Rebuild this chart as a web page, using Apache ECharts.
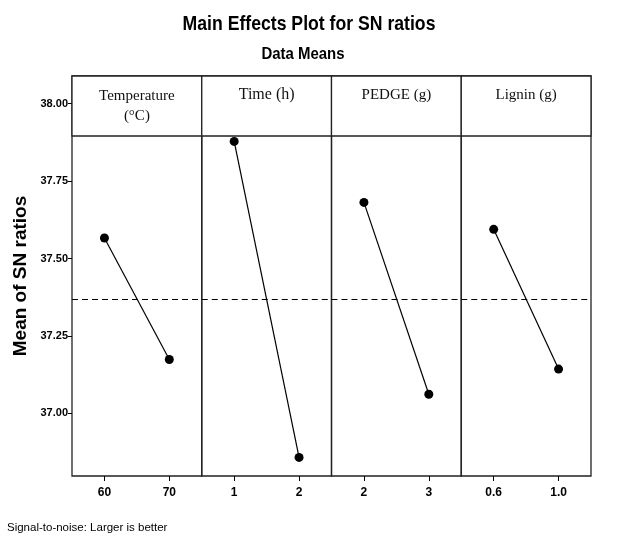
<!DOCTYPE html>
<html>
<head>
<meta charset="utf-8">
<script src="https://cdn.jsdelivr.net/npm/echarts@6/dist/echarts.min.js"></script>
<style>
  html, body { margin: 0; padding: 0; background: #fff; }
  #chart { width: 617px; height: 541px; }
</style>
</head>
<body>
<div id="chart"></div>
<script>
// ---- data ----
const factorNames = ['Temperature\n(°C)', 'Time (h)', 'PEDGE (g)', 'Lignin (g)'];
const levelsTemperature = ['60', '70'];
const levelsTime = ['1', '2'];
const levelsPEDGE = ['2', '3'];
const levelsLignin = ['0.6', '1.0'];
const snTemperature = [37.566, 37.174];
const snTime = [37.878, 36.858];
const snPEDGE = [37.681, 37.062];
const snLignin = [37.594, 37.143];
const yTickValues = [37.00, 37.25, 37.50, 37.75, 38.00];
const titleText = 'Main Effects Plot for SN ratios';
const subtitleText = 'Data Means';
const footnoteText = 'Signal-to-noise: Larger is better';
const yAxisTitle = 'Mean of SN ratios';

const levels = [levelsTemperature, levelsTime, levelsPEDGE, levelsLignin];
const means = [snTemperature, snTime, snPEDGE, snLignin];
const allVals = means.flat();
const overallMean = allVals.reduce((a, b) => a + b, 0) / allVals.length;

// ---- layout ----
const SANS = "'Liberation Sans', Arial, sans-serif";
const SERIF = "'Liberation Serif', 'Times New Roman', serif";
const frameLeft = 72, frameRight = 591, frameTop = 76, frameBottom = 476, stripH = 60;
const panelW = (frameRight - frameLeft) / 4;
const yMin = 36.798, yMax = 38.089;

const grids = [], xAxes = [], yAxes = [], series = [], graphics = [];
for (let i = 0; i < 4; i++) {
  const left = frameLeft + i * panelW;
  grids.push({
    left: left, width: panelW, top: frameTop, height: frameBottom - frameTop,
    show: true, borderColor: '#222', borderWidth: 1.3, backgroundColor: 'transparent'
  });
  xAxes.push({
    type: 'category', gridIndex: i, data: levels[i], boundaryGap: true,
    axisLine: { show: false },
    axisTick: { show: true, alignWithLabel: true, length: 5, lineStyle: { color: '#000', width: 1 } },
    axisLabel: { margin: 11, color: '#000', fontFamily: SANS, fontWeight: 'bold', fontSize: 12 },
    splitLine: { show: false }
  });
  yAxes.push({
    type: 'value', gridIndex: i, min: yMin, max: yMax, show: i === 0,
    name: i === 0 ? yAxisTitle : '',
    nameLocation: 'middle', nameRotate: 90, nameGap: 42,
    nameTextStyle: { color: '#000', fontFamily: SANS, fontWeight: 'bold', fontSize: 19 },
    axisLine: { show: false },
    axisTick: { show: true, length: 4, customValues: yTickValues, lineStyle: { color: '#000' } },
    axisLabel: {
      show: true, customValues: yTickValues, margin: 4, color: '#000',
      fontFamily: SANS, fontWeight: 'bold', fontSize: 11,
      formatter: v => Number(v).toFixed(2)
    },
    splitLine: { show: false }
  });
  series.push({
    type: 'line', xAxisIndex: i, yAxisIndex: i, data: means[i],
    symbol: 'circle', symbolSize: 9,
    itemStyle: { color: '#000' },
    lineStyle: { color: '#000', width: 1.2 },
    animation: false,
    markLine: {
      silent: true, symbol: 'none', animation: false,
      label: { show: false },
      lineStyle: { color: '#000', type: [6, 4], width: 1 },
      data: [{ yAxis: overallMean }]
    }
  });
  // strip header
  graphics.push({
    type: 'rect', z: 100,
    shape: { x: left, y: frameTop, width: panelW, height: stripH },
    style: { fill: '#fff', stroke: '#222', lineWidth: 1.3 }
  });
  graphics.push({
    type: 'text', z: 101,
    x: left + panelW / 2, y: i === 0 ? frameTop + 10 : frameTop + 9,
    style: {
      text: factorNames[i], fill: '#111', font: (i === 1 ? '16px ' : '15px ') + SERIF,
      align: 'center', verticalAlign: 'top', lineHeight: 20
    }
  });
}
// titles (condensed look via horizontal scale)
graphics.push({
  type: 'text', x: 309, y: 14, scaleX: 0.84, z: 110,
  style: { text: titleText, fill: '#000', font: 'bold 21px ' + SANS, align: 'center', verticalAlign: 'top' }
});
graphics.push({
  type: 'text', x: 303, y: 46, scaleX: 0.88, z: 110,
  style: { text: subtitleText, fill: '#000', font: 'bold 17px ' + SANS, align: 'center', verticalAlign: 'top' }
});
graphics.push({
  type: 'text', x: 7, y: 522, z: 110,
  style: { text: footnoteText, fill: '#000', font: '11.5px ' + SANS, align: 'left', verticalAlign: 'top' }
});

const chart = echarts.init(document.getElementById('chart'), null, { renderer: 'canvas' });
chart.setOption({
  backgroundColor: '#fff',
  animation: false,
  grid: grids, xAxis: xAxes, yAxis: yAxes, series: series,
  graphic: graphics
});
</script>
</body>
</html>
